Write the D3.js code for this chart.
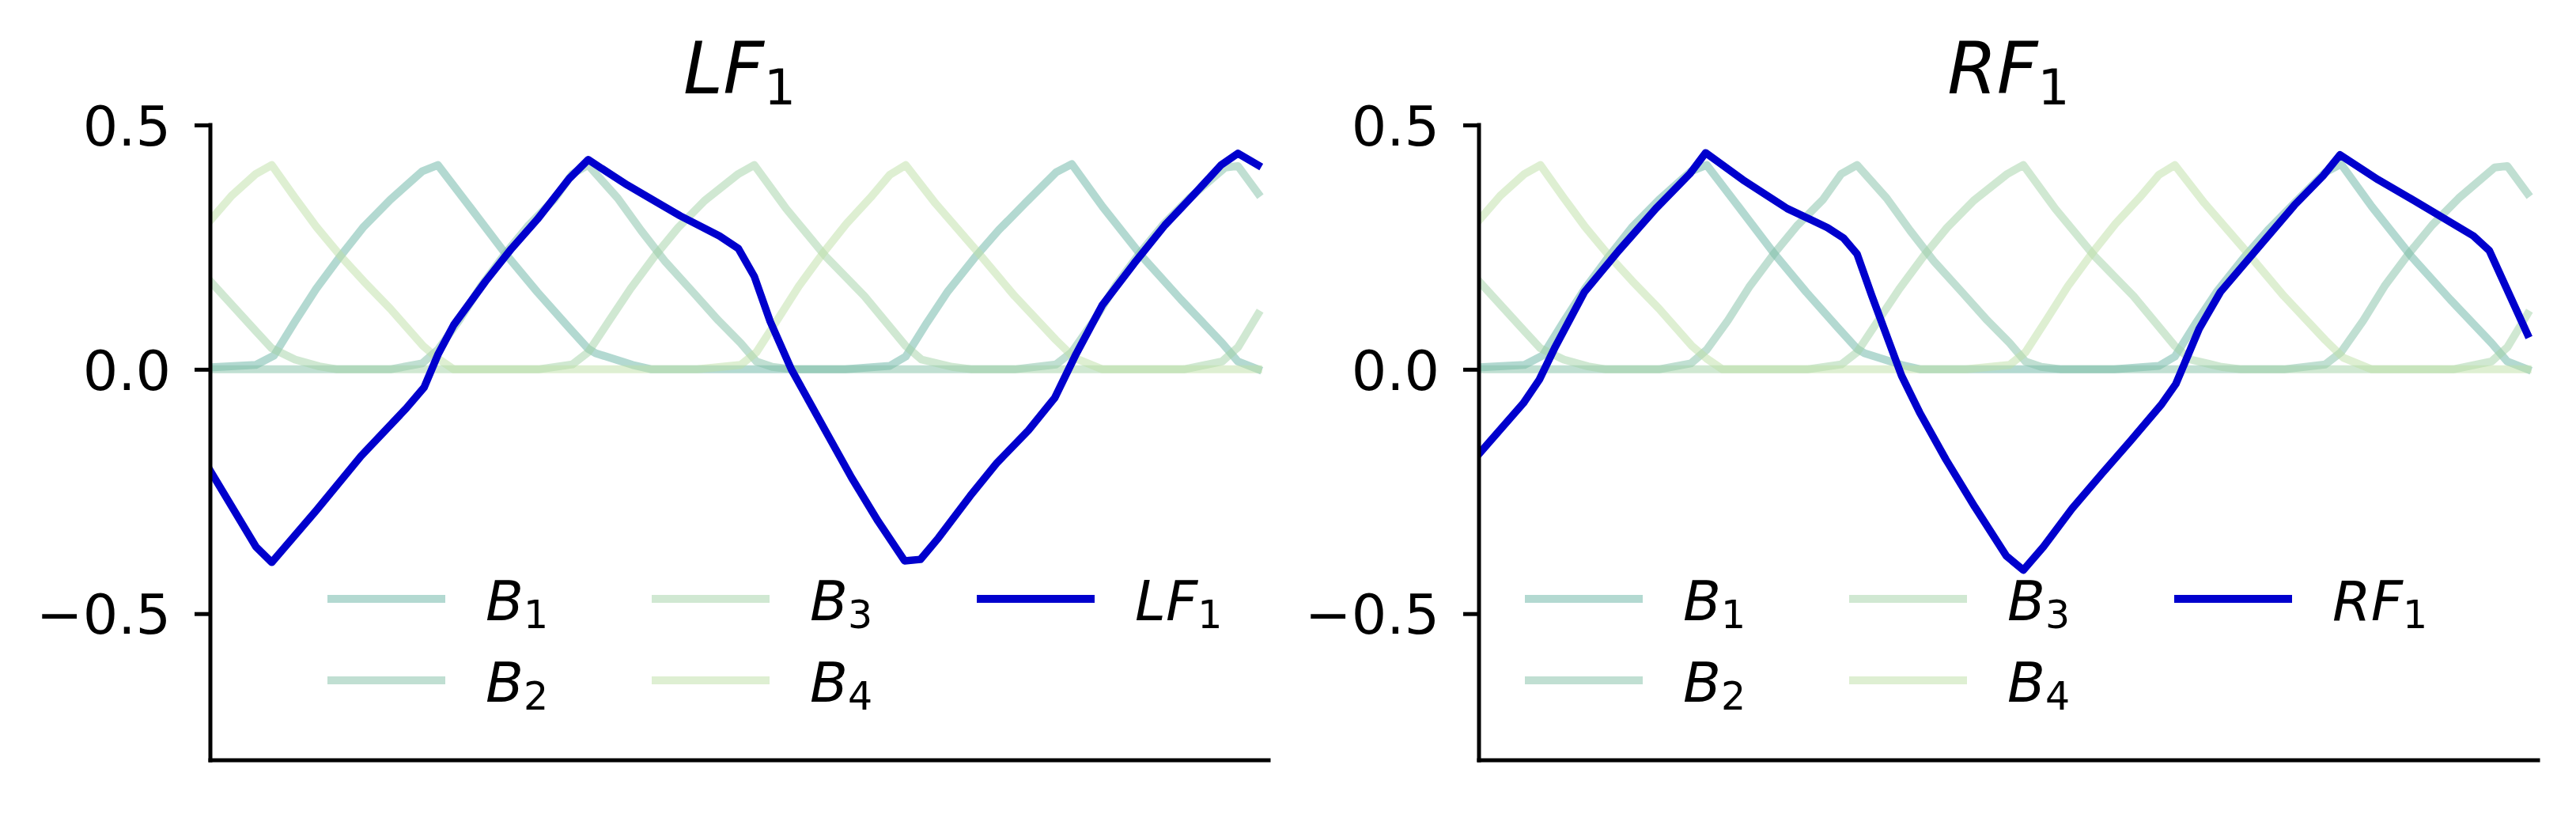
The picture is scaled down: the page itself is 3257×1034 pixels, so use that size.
<!DOCTYPE html>
<html><head><meta charset="utf-8">
<script src="https://cdn.jsdelivr.net/npm/d3@7"></script>
<style>body{margin:0;background:#fff}</style>
</head><body>
<svg id="chart" width="3257" height="1034" xmlns="http://www.w3.org/2000/svg"></svg>
<script>
// ---------------- data (x = sample index, y = value) ----------------
const basisNames = ["B", "B", "B", "B"];
const basisSubs = ["1", "2", "3", "4"];
const b1Pts = [[0,0.004],[4.3,0.009],[6.0,0.028],[8.0,0.098],[10.0,0.165],[12.3,0.232],[14.5,0.292],[17.0,0.347],[20.0,0.405],[21.5,0.418],
  [24.5,0.333],[27.9,0.236],[30.9,0.158],[33.9,0.085],[35.7,0.042],[36.4,0.033],[39.9,0.009],[41.7,0.0],
  [60.0,0.0],[64.2,0.007],[65.7,0.026],[67.7,0.095],[69.7,0.16],[72.2,0.228],[74.5,0.285],[77.0,0.34],[79.9,0.403],[81.4,0.42],
  [84.3,0.333],[88.0,0.232],[91.7,0.143],[95.6,0.054],[97.1,0.016],[99,0.0]];
const b2Pts = [[0,0],[17.0,0],[20.0,0.012],[21.5,0.040],[23.5,0.10],[25.5,0.168],[27.8,0.235],[30.0,0.293],[32.5,0.348],[34.2,0.40],[35.7,0.418],
  [38.5,0.35],[40.7,0.284],[43.0,0.22],[45.6,0.158],[48.0,0.10],[50.1,0.054],[51.6,0.016],[53.1,0.005],[55,0],
  [76,0],[79.9,0.01],[81.4,0.035],[83.5,0.10],[85.5,0.17],[87.8,0.237],[90,0.295],[92.5,0.35],[95.9,0.413],[97.1,0.416],[99,0.36]];
const b3Pts = [[0,0.18],[4.3,0.078],[5.8,0.043],[8.0,0.02],[10.3,0.006],[12,0],
  [31,0],[34.2,0.01],[35.7,0.035],[37.7,0.10],[39.7,0.165],[42.0,0.232],[44.2,0.29],[46.7,0.345],[49.9,0.40],[51.4,0.418],
  [54.4,0.329],[58.1,0.232],[61.8,0.15],[65.7,0.048],[67.2,0.02],[70.1,0.005],[72,0],
  [92,0],[95.6,0.016],[97.1,0.045],[99,0.113]];
const b4Pts = [[0,0.305],[2.0,0.355],[4.3,0.40],[5.8,0.418],[8.0,0.351],[10.0,0.292],[12.3,0.232],[14.5,0.18],[17.0,0.124],[20.1,0.048],[21.5,0.022],[23,0],
  [46,0],[50.1,0.009],[51.6,0.035],[53.6,0.102],[55.6,0.17],[57.9,0.238],[60.1,0.298],[62.4,0.352],[64.2,0.398],[65.7,0.418],
  [68.5,0.34],[72.5,0.24],[76.0,0.15],[79.9,0.06],[81.6,0.024],[84.3,0],[99,0]];
const lf1Pts = [[0,-0.208],[4.3,-0.363],[5.8,-0.395],[10.0,-0.289],[14.25,-0.177],[18.5,-0.08],[20.2,-0.037],[21.5,0.03],[23.0,0.091],[26.0,0.18],[28.45,0.247],[30.9,0.307],[33.9,0.39],[35.7,0.429],
  [39.4,0.377],[44.4,0.314],[48.1,0.273],[49.9,0.247],[51.4,0.19],[52.9,0.098],[54.9,0.0],[58.1,-0.125],[60.6,-0.222],[63.1,-0.311],[65.6,-0.392],[67.1,-0.389],
  [68.8,-0.345],[71.8,-0.259],[74.3,-0.192],[77.3,-0.125],[79.8,-0.058],[81.8,0.031],[84.3,0.132],[87.3,0.217],[90.2,0.295],[93.0,0.359],[95.5,0.418],[97.1,0.442],[99,0.418]];
const rf1Pts = [[0,-0.173],[4.2,-0.069],[5.7,-0.021],[7.2,0.046],[9.95,0.158],[13.2,0.243],[16.7,0.329],[19.9,0.40],[21.4,0.443],
  [24.9,0.388],[29.1,0.329],[32.9,0.29],[34.4,0.269],[35.7,0.236],[37.1,0.15],[39.9,-0.013],[41.6,-0.088],[44.1,-0.185],[46.8,-0.281],[49.8,-0.382],[51.4,-0.411],
  [53.3,-0.363],[56.0,-0.285],[58.8,-0.214],[61.5,-0.147],[64.4,-0.073],[65.8,-0.03],[68.0,0.083],[70.0,0.158],[73.5,0.247],[77.0,0.336],[79.7,0.396],[81.3,0.439],
  [84.9,0.388],[88.4,0.344],[93.9,0.273],[95.4,0.243],[99,0.072]];
const yTickValues = [0.5, 0.0, -0.5];
const yTickLabels = ["0.5", "0.0", "\u22120.5"];
const panelTitles = [["LF", "1"], ["RF", "1"]];
const xDomain = [0, 100];
const yDomain = [-0.8, 0.5];

// ---------------- layout / style ----------------
const basisSeries = [b1Pts, b2Pts, b3Pts, b4Pts];
const basisColors = ["#67b3a3", "#81bfa5", "#a1d1a5", "#bddfa5"];
const mainColor = "#0000cd";
const font = "DejaVu Sans, Liberation Sans, sans-serif";
const panelLayout = [
  {left: 266, right: 1604, legendX: [414, 824, 1235]},
  {left: 1870, right: 3209, legendX: [1928, 2338, 2749]}
];
const mainSeries = [lf1Pts, rf1Pts];
const plotTop = 158, plotBottom = 961;
const svg = d3.select("#chart");
svg.append("rect").attr("width", 3257).attr("height", 1034).attr("fill", "#fff");

panelLayout.forEach((L, pi) => {
  const x = d3.scaleLinear().domain(xDomain).range([L.left, L.right]);
  const y = d3.scaleLinear().domain(yDomain).range([plotBottom, plotTop]);
  const g = svg.append("g");
  const clipId = "clip" + pi;
  svg.append("clipPath").attr("id", clipId).append("rect")
    .attr("x", L.left).attr("y", 60).attr("width", L.right - L.left).attr("height", plotBottom - 60);
  const line = d3.line().x(d => x(d[0])).y(d => y(d[1]));
  const plot = g.append("g").attr("clip-path", `url(#${clipId})`);
  basisSeries.forEach((pts, k) => {
    plot.append("path").attr("d", line(pts)).attr("fill", "none")
      .attr("stroke", basisColors[k]).attr("stroke-opacity", 0.5)
      .attr("stroke-width", 10).attr("stroke-linejoin", "round").attr("stroke-linecap", "square");
  });
  plot.append("path").attr("d", line(mainSeries[pi])).attr("fill", "none")
    .attr("stroke", mainColor).attr("stroke-width", 9.5)
    .attr("stroke-linejoin", "round").attr("stroke-linecap", "square");

  // axes via d3
  const yAxis = d3.axisLeft(y).tickValues(yTickValues).tickSize(20).tickPadding(30)
    .tickFormat((d, i) => yTickLabels[i]);
  const ya = g.append("g").attr("transform", `translate(${L.left},0)`).call(yAxis);
  ya.select(".domain").remove();
  ya.selectAll(".tick line").attr("stroke", "#000").attr("stroke-width", 5);
  ya.selectAll(".tick text").attr("font-family", font).attr("font-size", 70).attr("fill", "#000")
    .attr("dy", "0.36em");
  g.append("line").attr("x1", L.left).attr("x2", L.left).attr("y1", y(0.5)).attr("y2", y(-0.8))
    .attr("stroke", "#000").attr("stroke-width", 5).attr("stroke-linecap", "square");
  g.append("line").attr("x1", L.left).attr("x2", L.right).attr("y1", y(-0.8)).attr("y2", y(-0.8))
    .attr("stroke", "#000").attr("stroke-width", 5).attr("stroke-linecap", "square");

  // title
  const t = g.append("text").attr("x", (L.left + L.right) / 2).attr("y", 118)
    .attr("text-anchor", "middle").attr("font-family", font).attr("font-size", 90).attr("fill", "#000");
  t.append("tspan").attr("font-style", "italic").text(panelTitles[pi][0]);
  t.append("tspan").attr("font-size", 63).attr("dy", 14).text(panelTitles[pi][1]);

  // legend
  const entries = [
    {c: basisColors[0], o: 0.5, n: basisNames[0], s: basisSubs[0], col: 0, row: 0},
    {c: basisColors[1], o: 0.5, n: basisNames[1], s: basisSubs[1], col: 0, row: 1},
    {c: basisColors[2], o: 0.5, n: basisNames[2], s: basisSubs[2], col: 1, row: 0},
    {c: basisColors[3], o: 0.5, n: basisNames[3], s: basisSubs[3], col: 1, row: 1},
    {c: mainColor, o: 1, n: panelTitles[pi][0], s: panelTitles[pi][1], col: 2, row: 0}
  ];
  const rowY = [757, 860];
  entries.forEach(e => {
    const x0 = L.legendX[e.col], yy = rowY[e.row];
    g.append("line").attr("x1", x0).attr("x2", x0 + 149).attr("y1", yy).attr("y2", yy)
      .attr("stroke", e.c).attr("stroke-opacity", e.o).attr("stroke-width", 10);
    const tx = g.append("text").attr("x", x0 + 200).attr("y", yy + 27)
      .attr("font-family", font).attr("font-size", 70).attr("fill", "#000");
    tx.append("tspan").attr("font-style", "italic").text(e.n);
    tx.append("tspan").attr("font-size", 49).attr("dy", 10).text(e.s);
  });
});
</script>
</body></html>
